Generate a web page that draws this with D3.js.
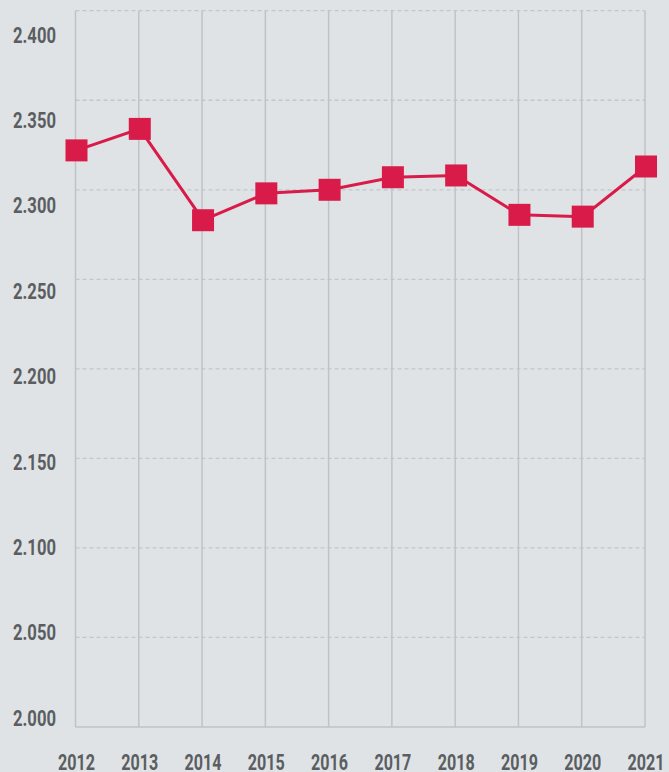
<!DOCTYPE html>
<html>
<head>
<meta charset="utf-8">
<script src="https://cdn.jsdelivr.net/npm/d3@7"></script>
<style>
  html, body { margin: 0; padding: 0; background: #dfe3e6; }
  text { font-family: Roboto, "DejaVu Sans", sans-serif; font-weight: bold; fill: #5b5e61; }
</style>
</head>
<body>
<div id="chart"></div>
<script>
const years = ["2012", "2013", "2014", "2015", "2016", "2017", "2018", "2019", "2020", "2021"];
const values = [2.322, 2.334, 2.283, 2.298, 2.300, 2.307, 2.308, 2.286, 2.285, 2.313];
const yTicks = [2.000, 2.050, 2.100, 2.150, 2.200, 2.250, 2.300, 2.350, 2.400];

const width = 669, height = 772;
const margin = { top: 10.7, right: 24, bottom: 45, left: 75.5 };

const svg = d3.select("#chart")
  .append("svg")
  .attr("width", width)
  .attr("height", height);

const xScale = d3.scalePoint()
  .domain(years)
  .range([margin.left, width - margin.right]);

const yScale = d3.scaleLinear()
  .domain([2.0, 2.4])
  .range([height - margin.bottom, margin.top]);

// tick labels in the original sit on their own, slightly tighter spacing
const yLabelScale = d3.scaleLinear()
  .domain([2.0, 2.4])
  .range([718, 35]);

// horizontal dashed grid
svg.append("g")
  .selectAll("line")
  .data(yTicks.slice(1))
  .join("line")
  .attr("x1", margin.left)
  .attr("x2", width - margin.right)
  .attr("y1", d => yScale(d))
  .attr("y2", d => yScale(d))
  .attr("stroke", "#c3c6c9")
  .attr("stroke-width", 1.3)
  .attr("stroke-dasharray", "4,3");

// vertical solid grid
svg.append("g")
  .selectAll("line")
  .data(years)
  .join("line")
  .attr("x1", d => xScale(d))
  .attr("x2", d => xScale(d))
  .attr("y1", yScale(2.4))
  .attr("y2", yScale(2.0))
  .attr("stroke", "#c0c3c6")
  .attr("stroke-width", 1.5);

// baseline
svg.append("line")
  .attr("x1", margin.left)
  .attr("x2", width - margin.right)
  .attr("y1", yScale(2.0))
  .attr("y2", yScale(2.0))
  .attr("stroke", "#c0c3c6")
  .attr("stroke-width", 1.5);

// y labels (condensed look via textLength)
svg.append("g")
  .selectAll("text")
  .data(yTicks)
  .join("text")
  .attr("x", 56)
  .attr("y", d => yLabelScale(d))
  .attr("dy", "0.35em")
  .attr("text-anchor", "end")
  .attr("textLength", 43)
  .attr("lengthAdjust", "spacingAndGlyphs")
  .style("font-size", "22px")
  .text(d => d3.format(".3f")(d));

// x labels
svg.append("g")
  .selectAll("text")
  .data(years)
  .join("text")
  .attr("x", d => xScale(d) + 1)
  .attr("y", 762)
  .attr("dy", "0.35em")
  .attr("text-anchor", "middle")
  .attr("textLength", 37)
  .attr("lengthAdjust", "spacingAndGlyphs")
  .style("font-size", "22px")
  .text(d => d);

const data = years.map((y, i) => ({ year: y, value: values[i] }));

const line = d3.line()
  .x(d => xScale(d.year) + 1)
  .y(d => yScale(d.value));

svg.append("path")
  .datum(data)
  .attr("fill", "none")
  .attr("stroke", "#d91b4a")
  .attr("stroke-width", 3)
  .attr("d", line);

const s = 22;
svg.append("g")
  .selectAll("rect")
  .data(data)
  .join("rect")
  .attr("x", d => xScale(d.year) + 1 - s / 2)
  .attr("y", d => yScale(d.value) - s / 2)
  .attr("width", s)
  .attr("height", s)
  .attr("fill", "#d91b4a");
</script>
</body>
</html>
